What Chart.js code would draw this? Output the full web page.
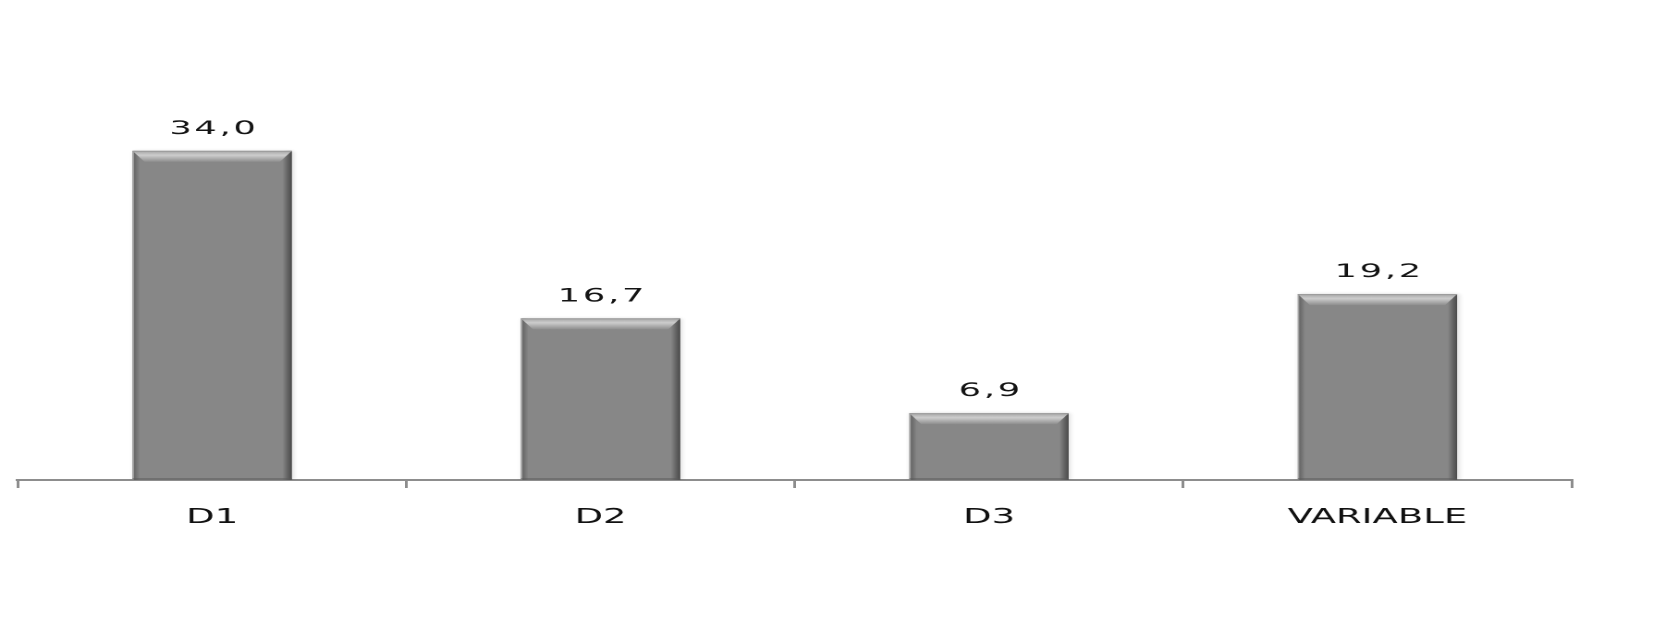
<!DOCTYPE html>
<html>
<head>
<meta charset="utf-8">
<script src="https://cdn.jsdelivr.net/npm/chart.js@4.4.1/dist/chart.umd.min.js"></script>
<style>
  html, body { margin: 0; padding: 0; background: #ffffff; overflow: hidden; }
  #wrap { width: 894px; height: 640px; transform: scaleX(1.849); transform-origin: 0 0; }
</style>
</head>
<body>
<div id="wrap"><canvas id="c" width="894" height="640"></canvas></div>
<script>
const categories = ['D1', 'D2', 'D3', 'VARIABLE'];
const values = [34.0, 16.7, 6.9, 19.2];
const valueLabels = ['34,0', '16,7', '6,9', '19,2'];

const barDecor = {
  id: 'barDecor',
  beforeDatasetsDraw(chart) {
    const ctx = chart.ctx;
    ctx.save();
    ctx.shadowColor = 'rgba(0,0,0,0.16)';
    ctx.shadowBlur = 6;
    ctx.shadowOffsetX = 1.5;
    ctx.shadowOffsetY = 0;
  },
  afterDatasetsDraw(chart) {
    const ctx = chart.ctx;
    ctx.restore();
    const meta = chart.getDatasetMeta(0);
    meta.data.forEach((bar, i) => {
      const left = bar.x - bar.width / 2;
      const right = bar.x + bar.width / 2;
      const top = bar.y;
      const bottom = bar.base;
      const hh = bottom - top;
      ctx.save();
      ctx.fillStyle = '#a2a2a2';
      ctx.fillRect(left, top, 0.8, hh);
      const gl = ctx.createLinearGradient(left + 0.8, 0, left + 4, 0);
      gl.addColorStop(0, 'rgba(95,95,95,0.85)');
      gl.addColorStop(1, 'rgba(95,95,95,0)');
      ctx.fillStyle = gl;
      ctx.fillRect(left + 0.8, top, 3.2, hh);
      const gr = ctx.createLinearGradient(right - 5, 0, right, 0);
      gr.addColorStop(0, 'rgba(80,80,80,0)');
      gr.addColorStop(0.6, 'rgba(80,80,80,0.7)');
      gr.addColorStop(1, 'rgba(70,70,70,0.95)');
      ctx.fillStyle = gr;
      ctx.fillRect(right - 5, top, 5, hh);
      ctx.fillStyle = 'rgba(90,90,90,0.5)';
      ctx.fillRect(left, bottom - 2, right - left, 2);
      const h = 11, d = 6.5;
      const gb = ctx.createLinearGradient(0, top, 0, top + h);
      gb.addColorStop(0, '#a6a6a6');
      gb.addColorStop(0.15, '#b4b4b4');
      gb.addColorStop(0.4, '#cdcdcd');
      gb.addColorStop(1, '#8e8e8e');
      ctx.beginPath();
      ctx.moveTo(left, top);
      ctx.lineTo(right, top);
      ctx.lineTo(right - d, top + h);
      ctx.lineTo(left + d, top + h);
      ctx.closePath();
      ctx.fillStyle = gb;
      ctx.fill();
      ctx.strokeStyle = '#9c9c9c';
      ctx.lineWidth = 1;
      ctx.beginPath();
      ctx.moveTo(left, top + 0.5);
      ctx.lineTo(right, top + 0.5);
      ctx.stroke();
      ctx.fillStyle = '#141414';
      ctx.font = '19px "DejaVu Sans"';
      ctx.textAlign = 'center';
      ctx.textBaseline = 'alphabetic';
      try { ctx.letterSpacing = '1.5px'; } catch (e) {}
      ctx.fillText(valueLabels[i], bar.x + 1, top - 17);
      ctx.restore();
    });
  }
};

new Chart(document.getElementById('c'), {
  type: 'bar',
  data: {
    labels: categories,
    datasets: [{
      data: values,
      backgroundColor: '#878787',
      borderWidth: 0,
      categoryPercentage: 1.0,
      barPercentage: 0.41
    }]
  },
  options: {
    responsive: false,
    animation: false,
    devicePixelRatio: 2,
    layout: { padding: { left: 9.7, right: 44, top: 40, bottom: 92 } },
    plugins: { legend: { display: false }, tooltip: { enabled: false } },
    scales: {
      x: {
        grid: {
          offset: true,
          drawOnChartArea: false,
          drawTicks: true,
          tickLength: 8,
          color: '#8d8d8d',
          lineWidth: 1.5
        },
        border: { display: true, color: '#8d8d8d', width: 2 },
        ticks: {
          color: '#111111',
          font: { family: 'DejaVu Sans', size: 20 },
          padding: 18
        }
      },
      y: {
        display: false,
        min: 0,
        max: 45.45
      }
    }
  },
  plugins: [barDecor]
});
</script>
</body>
</html>
